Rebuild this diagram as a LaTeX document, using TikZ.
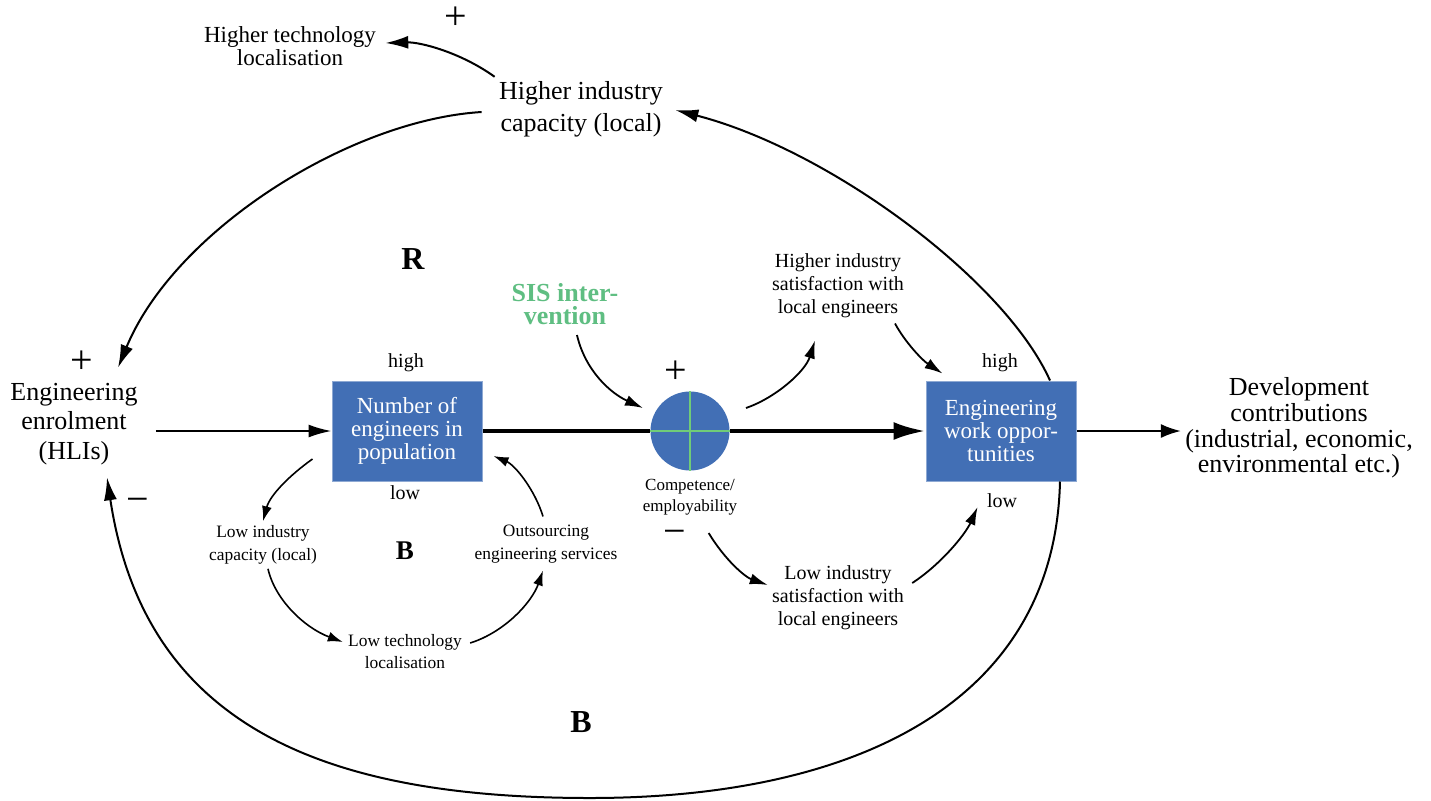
\documentclass[tikz,border=0pt]{standalone}
\usepackage{fontspec}
\setmainfont{Liberation Serif}
\usetikzlibrary{arrows.meta, calc}

\definecolor{boxblue}{RGB}{66,111,181}
\definecolor{sisgreen}{RGB}{95,190,130}
\definecolor{crossgreen}{RGB}{112,204,120}

\tikzset{
    bigtext/.style={align=center, inner sep=2pt, font=\fontsize{13}{16}\selectfont},
    techtext/.style={align=center, inner sep=2pt, font=\fontsize{11.5}{11.5}\selectfont},
    midtext/.style={align=center, inner sep=2pt, font=\fontsize{10}{11.5}\selectfont},
    smalltext/.style={align=center, inner sep=2pt, font=\fontsize{8.7}{11.5}\selectfont},
    leveltext/.style={inner sep=2pt, font=\fontsize{10}{10}\selectfont},
    signtext/.style={inner sep=0pt, font=\fontsize{20}{20}\selectfont},
    looptext/.style={inner sep=1pt, font=\fontsize{16}{16}\selectfont\bfseries},
    stockbox/.style={fill=boxblue, draw=boxblue!60!white, line width=0.5pt, text=white,
        minimum width=75pt, minimum height=50pt, inner sep=0pt, align=center,
        font=\fontsize{11.5}{11.5}\selectfont},
    arr/.style={-{Latex[length=11.5pt,width=6.5pt]}, line width=1pt},
    midarr/.style={-{Latex[length=9pt,width=5.5pt]}, line width=0.9pt},
    smallarr/.style={-{Latex[length=7.5pt,width=5pt]}, line width=0.8pt},
    thickarr/.style={-{Latex[length=16pt,width=9pt]}, line width=2pt}
}

\begin{document}
\begin{tikzpicture}[x=0.5pt, y=-0.5pt]
    \useasboundingbox (0,0) rectangle (1431,800);
    \node[techtext] (hitech) at (290,46) {Higher technology\\localisation};
    \node[signtext] (plustech) at (456,18) {+};
    \node[bigtext] (hicap) at (581,109) {Higher industry\\capacity (local)};
    \node[looptext] (loopR) at (413,259) {R};
    \node[align=center, inner sep=2pt, text=sisgreen, font=\fontsize{13}{11.5}\selectfont\bfseries] (sis) at (565,304) {SIS inter-\\vention};
    \node[midtext] (hisat) at (838,286) {Higher industry\\satisfaction with\\local engineers};
    \node[signtext] (plusenrol) at (82,362) {+};
    \node[bigtext, font=\fontsize{13}{14.75}\selectfont] (enrol) at (74,424) {Engineering\\enrolment\\(HLIs)};
    \node[stockbox] (num) at (407,431) {Number of\\engineers in\\population};
    \node[leveltext] (highN) at (406,363) {high};
    \node[leveltext] (lowN) at (405,493) {low};
    \node[signtext] (pluscomp) at (676,372) {+};
    \node[circle, fill=boxblue, minimum size=39.5pt, inner sep=0pt] (comp) at (690,431) {};
    \node[smalltext, inner sep=1pt, font=\fontsize{8.5}{10.5}\selectfont] (complabel) at (690,497) {Competence/\\employability};
    \node[signtext] (minuscomp) at (675,537) {−};
    \node[stockbox] (work) at (1001,431) {Engineering\\work oppor-\\tunities};
    \node[leveltext] (highW) at (1000,363) {high};
    \node[leveltext] (lowW) at (1002,501) {low};
    \node[bigtext, font=\fontsize{13}{12.8}\selectfont] (dev) at (1299,428) {Development\\contributions\\(industrial, economic,\\environmental etc.)};
    \node[signtext] (minusenrol) at (138,505) {−};
    \node[smalltext] (lowcap) at (263,545) {Low industry\\capacity (local)};
    \node[looptext, font=\fontsize{13.5}{13.5}\selectfont\bfseries] (loopBin) at (405,551) {B};
    \node[smalltext] (outs) at (546,544) {Outsourcing\\engineering services};
    \node[midtext] (lowsat) at (838,598) {Low industry\\satisfaction with\\local engineers};
    \node[smalltext, font=\fontsize{8.7}{11}\selectfont] (lowtech) at (405,652) {Low technology\\localisation};
    \node[looptext] (loopBout) at (581,722) {B};
    \draw[crossgreen, line width=0.75pt] (comp.north) -- (comp.south) (comp.west) -- (comp.east);
    \draw[arr, shorten <=7pt] (enrol.east |- num.west) -- (num.west);
    \draw[line width=2pt] (num.east) -- (comp.west);
    \draw[thickarr] (comp.east) -- (work.west);
    \draw[-{Latex[length=10pt,width=7pt]}, line width=1pt] (work.east) -- (dev.west |- work.east);
    \draw[arr] ($(work.north)+(49,0)$) .. controls (1005,280) and (830,150) .. ($(hicap.east)+(8,1)$);
    \draw[arr] ($(hicap.west)+(-13,3)$) .. controls (350,120) and (175,230) .. ($(enrol.north)+(44,-11)$);
    \draw[arr] (hicap.north west) .. controls (460,52) and (420,42) .. ($(hitech.east)+(5,-3)$);
    \draw[arr] ($(work.south)+(59,0)$) .. controls (1055,700) and (860,798) .. (590,798)
        .. controls (330,798) and (145,730) .. ($(enrol.south)+(33,8)$);
    \draw[smallarr] ($(num.west)+(-19,28)$) .. controls (290,475) and (270,495) .. (lowcap.north);
    \draw[smallarr] ($(lowcap.south)+(5,0)$) .. controls (275,600) and (305,628) .. ($(lowtech.west)+(-1,-10)$);
    \draw[smallarr] ($(lowtech.east)+(4,-9)$) .. controls (505,632) and (532,602) .. ($(outs.south)+(-3,3)$);
    \draw[smallarr] ($(outs.north)+(-3,-4)$) .. controls (535,490) and (515,465) .. ($(num.east)+(11,25)$);
    \draw[midarr] ($(sis.south)+(12,6)$) .. controls (585,370) and (610,393) .. ($(comp)+(-47,-23)$);
    \draw[midarr] ($(comp)+(56,-23)$) .. controls (775,398) and (805,372) .. ($(hisat.south)+(-23,18)$);
    \draw[midarr] ($(hisat.south)+(57,1)$) .. controls (905,342) and (922,360) .. ($(work.north west)+(17,-7)$);
    \draw[midarr] ($(minuscomp.east)+(22,-4)$) .. controls (725,560) and (745,577) .. ($(lowsat.west)+(0,-13)$);
    \draw[midarr] ($(lowsat.east)+(4,-15)$) .. controls (940,565) and (965,535) .. ($(lowW.west)+(-5,6)$);
\end{tikzpicture}
\end{document}
